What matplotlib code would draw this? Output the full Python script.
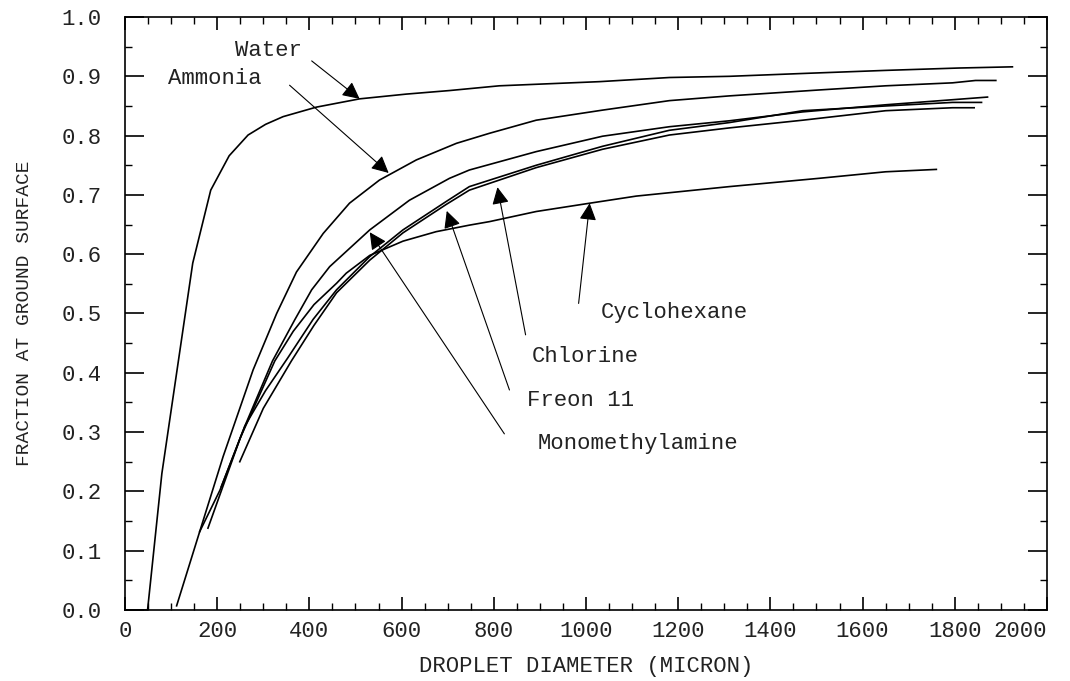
import matplotlib
matplotlib.use("Agg")
import matplotlib.pyplot as plt
from matplotlib.ticker import MultipleLocator, FormatStrFormatter

plt.rcParams['font.family'] = ['Liberation Mono', 'DejaVu Sans Mono']

# droplet diameter (micron) vs fraction reaching the ground
water_d = [0, 30, 49, 80, 147, 186, 226, 267, 305, 343, 415, 509, 610, 704, 812,
           1029, 1181, 1311, 1477, 1650, 1809, 1925]
water_f = [0.0, 0.0, 0.0, 0.230, 0.585, 0.708, 0.766, 0.801, 0.819, 0.832, 0.848,
           0.862, 0.870, 0.876, 0.884, 0.891, 0.898, 0.900, 0.905, 0.910, 0.914, 0.916]

ammonia_d = [112, 162, 213, 278, 329, 372, 430, 487, 552, 632, 719, 791, 892,
             1036, 1181, 1311, 1506, 1650, 1795, 1845, 1889]
ammonia_f = [0.007, 0.132, 0.259, 0.405, 0.500, 0.570, 0.635, 0.686, 0.725, 0.759,
             0.787, 0.804, 0.826, 0.843, 0.859, 0.867, 0.877, 0.884, 0.889, 0.893, 0.893]

mma_d = [162, 206, 260, 320, 368, 405, 444, 531, 617, 704, 747, 892, 1036,
         1181, 1311, 1470, 1650, 1871]
mma_f = [0.132, 0.202, 0.310, 0.420, 0.489, 0.540, 0.579, 0.641, 0.691, 0.728,
         0.742, 0.773, 0.799, 0.815, 0.825, 0.840, 0.852, 0.865]

cyclo_d = [180, 250, 325, 365, 410, 459, 480, 531, 603, 675, 747, 791, 892,
           1008, 1109, 1311, 1506, 1650, 1760]
cyclo_f = [0.138, 0.290, 0.420, 0.470, 0.515, 0.551, 0.568, 0.598, 0.622, 0.638,
           0.649, 0.655, 0.672, 0.686, 0.698, 0.714, 0.728, 0.739, 0.743]

chlorine_d = [209, 260, 305, 353, 408, 459, 531, 603, 697, 747, 892, 1036, 1181,
              1311, 1470, 1650, 1795, 1858]
chlorine_f = [0.208, 0.310, 0.370, 0.425, 0.490, 0.540, 0.596, 0.641, 0.689, 0.714,
              0.750, 0.782, 0.809, 0.822, 0.842, 0.850, 0.856, 0.856]

freon_d = [249, 300, 361, 410, 459, 531, 603, 697, 747, 892, 1036, 1181, 1311,
           1470, 1650, 1795, 1842]
freon_f = [0.250, 0.340, 0.420, 0.480, 0.535, 0.590, 0.636, 0.684, 0.708, 0.746,
           0.777, 0.801, 0.813, 0.826, 0.842, 0.847, 0.847]

# label text, text centre, arrow tail, arrow tip
labels = ["Water", "Ammonia", "Monomethylamine", "Freon 11", "Chlorine", "Cyclohexane"]
text_pos = [(312, 0.944), (195, 0.897), (1112, 0.280), (988, 0.354), (999, 0.427), (1192, 0.501)]
tail_pos = [(405, 0.926), (357, 0.885), (823, 0.297), (834, 0.371), (869, 0.464), (984, 0.517)]
tip_pos = [(509, 0.862), (572, 0.737), (531, 0.637), (698, 0.673), (808, 0.713), (1008, 0.686)]

fig = plt.figure(figsize=(10.7, 6.81), dpi=100)
ax = fig.add_axes([0.1168, 0.1043, 0.8617, 0.8707])

for d, f in [(water_d, water_f), (ammonia_d, ammonia_f), (mma_d, mma_f),
             (cyclo_d, cyclo_f), (chlorine_d, chlorine_f), (freon_d, freon_f)]:
    ax.plot(d, f, color='black', lw=1.2, clip_on=False)

for name, tp, tl, tip in zip(labels, text_pos, tail_pos, tip_pos):
    ax.text(tp[0], tp[1], name, ha='center', va='center', fontsize=16, color='#222222')
    ax.annotate('', xy=tip, xytext=tl,
                arrowprops=dict(arrowstyle='-|>', color='black', lw=0.8,
                                mutation_scale=26, shrinkA=0, shrinkB=0))

ax.set_xlim(0, 2000)
ax.set_ylim(0, 1.0)
ax.xaxis.set_major_locator(MultipleLocator(200))
ax.xaxis.set_minor_locator(MultipleLocator(50))
ax.yaxis.set_major_locator(MultipleLocator(0.1))
ax.yaxis.set_minor_locator(MultipleLocator(0.05))
ax.yaxis.set_major_formatter(FormatStrFormatter('%.1f'))

ax.tick_params(which='both', direction='in', top=True, right=True, color='black')
ax.tick_params(axis='y', which='major', length=13.5, width=1.2, pad=17, labelsize=16)
ax.tick_params(axis='x', which='major', length=9.5, width=1.2, pad=8, labelsize=16)
ax.tick_params(which='minor', length=5, width=1.0)
for s in ax.spines.values():
    s.set_linewidth(1.2)

ax.set_xlabel('DROPLET DIAMETER (MICRON)', fontsize=16, color='#222222', labelpad=10)
ax.set_ylabel('FRACTION AT GROUND SURFACE', fontsize=14, color='#222222', labelpad=20)

fig.canvas.draw()
for lab in ax.get_xticklabels() + ax.get_yticklabels():
    lab.set_color('#222222')
    # keep the last x label inside the figure
    if lab.get_text() == '2000':
        lab.set_horizontalalignment('right')

fig.savefig('out.png', dpi=100)
